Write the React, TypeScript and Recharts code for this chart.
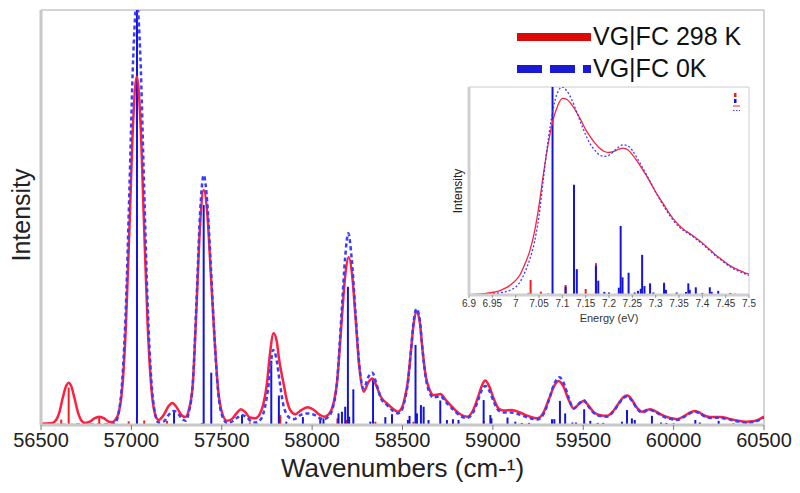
import React from 'react'
import { ComposedChart, Line, XAxis, YAxis, ReferenceLine, Label } from 'recharts'

const FONT = '"Liberation Sans", Arial, sans-serif'

// main axis ticks
const xTicks = [56500, 57000, 57500, 58000, 58500, 59000, 59500, 60000, 60500]
const yTicks = [0, 8, 16, 24, 32, 40, 48, 56, 64, 72, 80, 88, 96]
// inset axis ticks (eV)
const insetTicks = [6.9, 6.95, 7, 7.05, 7.1, 7.15, 7.2, 7.25, 7.3, 7.35, 7.4, 7.45, 7.5]
const insetYTicks = [0, 12.5, 25, 37.5, 50, 62.5, 75, 87.5]

const seriesNames = ['VG|FC 298 K', 'VG|FC 0K']

// broadened spectrum, 298 K  [wavenumber, intensity]
const red298: [number, number][] = [
  [56500, 0.3], [56555, 0.4], [56580, 1.0], [56600, 2.8], [56620, 6.5], [56640, 9.5], [56653, 10.2],
  [56668, 9.3], [56685, 6.5], [56705, 3.0], [56725, 1.0], [56745, 0.5], [56770, 0.8], [56795, 1.6],
  [56822, 2.0], [56850, 1.6], [56875, 0.8], [56895, 0.7], [56910, 1.2], [56930, 3.0], [56950, 9.2],
  [56970, 24.2], [56990, 48.3], [57010, 73.2], [57030, 84], [57050, 73.2], [57070, 48.3], [57090, 24.2],
  [57110, 9.2], [57130, 2.8], [57150, 1.2], [57180, 2.5], [57205, 4.5], [57227, 5.3], [57250, 4.3],
  [57275, 2.5], [57298, 1.9], [57320, 4.0], [57340, 10], [57360, 28], [57380, 48], [57400, 56.6],
  [57420, 51], [57440, 36], [57460, 21], [57480, 8.5], [57500, 3.2], [57529, 1.0], [57560, 1.6],
  [57585, 3.0], [57606, 3.8], [57630, 3.1], [57655, 1.8], [57686, 1.6], [57710, 2.6], [57730, 5.0],
  [57750, 10], [57765, 16.5], [57787, 22.1], [57805, 20], [57815, 16.5], [57842, 10], [57860, 6],
  [57879, 3.6], [57907, 2.6], [57940, 3.6], [57975, 4.3], [58010, 3.6], [58040, 2.5], [58067, 2.0],
  [58090, 2.5], [58110, 4.0], [58137, 10], [58165, 26], [58182, 35.5], [58202, 40.4], [58224, 35],
  [58240, 26], [58261, 14], [58285, 8.0], [58310, 10.2], [58333, 11.2], [58355, 9.5], [58380, 6.8],
  [58414, 5.2], [58445, 4.0], [58475, 3.2], [58500, 4.5], [58515, 7], [58528, 10], [58547, 18],
  [58562, 24.5], [58578, 27.3], [58595, 25], [58611, 18], [58630, 11.5], [58650, 8.5], [58670, 7.2],
  [58690, 7.3], [58709, 7.5], [58740, 6], [58783, 4.0], [58820, 2.6], [58857, 2.0], [58890, 3.5],
  [58920, 7], [58940, 9.6], [58958, 10.7], [58980, 9.3], [59005, 6.3], [59031, 4.0], [59060, 3.5],
  [59105, 3.6], [59150, 3.0], [59200, 2.1], [59244, 1.6], [59280, 3.0], [59310, 6.2], [59340, 9.5],
  [59364, 10.6], [59390, 9.3], [59420, 6], [59447, 4.0], [59475, 5], [59502, 5.8], [59530, 4.6],
  [59560, 3.0], [59600, 2.3], [59631, 2.2], [59670, 3.6], [59700, 5.5], [59725, 6.8], [59745, 7.1],
  [59770, 6.0], [59800, 4.0], [59825, 3.2], [59850, 3.6], [59871, 3.8], [59900, 3.3], [59940, 2.3],
  [59980, 1.7], [60018, 1.4], [60060, 2.2], [60095, 3.1], [60120, 3.4], [60150, 2.8], [60180, 2.1],
  [60203, 1.9], [60230, 1.95], [60260, 1.9], [60300, 1.6], [60350, 1.1], [60400, 0.8], [60440, 0.9],
  [60470, 1.3], [60500, 2.0],
]

// broadened spectrum, 0 K
const blue0K: [number, number][] = [
  [56500, 0], [56880, 0.1], [56910, 0.5], [56930, 3.0], [56950, 11], [56970, 29], [56990, 58],
  [57010, 88.5], [57030, 102], [57050, 88.5], [57070, 58], [57090, 29], [57110, 11], [57130, 3.0],
  [57150, 0.6], [57180, 0.9], [57210, 2.6], [57236, 3.4], [57260, 2.6], [57285, 1.3], [57300, 1.0],
  [57320, 3.5], [57340, 10], [57360, 29.5], [57380, 51], [57400, 60.2], [57420, 53.5], [57440, 38],
  [57460, 21], [57480, 8], [57500, 2.5], [57530, 0.5], [57560, 0.9], [57590, 1.9], [57612, 2.4],
  [57640, 1.8], [57665, 0.8], [57690, 0.6], [57715, 1.3], [57740, 4.5], [57760, 10], [57772, 15],
  [57784, 18.1], [57800, 16.5], [57822, 10], [57840, 5], [57860, 2.5], [57880, 1.6], [57900, 1.4],
  [57935, 2.4], [57975, 2.8], [58015, 2.4], [58045, 1.6], [58067, 1.4], [58090, 2], [58110, 3.5],
  [58137, 10], [58165, 28.5], [58182, 40], [58200, 46.2], [58218, 40.5], [58240, 27], [58262, 14],
  [58285, 8.8], [58310, 11.5], [58333, 12.6], [58355, 10], [58380, 6.5], [58414, 4.8], [58445, 3.5],
  [58475, 2.8], [58500, 4], [58515, 6.5], [58528, 9.5], [58547, 18], [58562, 25], [58578, 28],
  [58595, 25.5], [58611, 18], [58630, 11], [58650, 7.8], [58670, 6.6], [58690, 6.8], [58709, 7.0],
  [58740, 5.5], [58783, 3.6], [58820, 2.2], [58857, 1.7], [58890, 3.0], [58920, 6.2], [58940, 8.5],
  [58958, 9.4], [58980, 8.3], [59005, 5.6], [59031, 3.5], [59060, 3.0], [59105, 3.0], [59150, 2.5],
  [59200, 1.7], [59244, 1.3], [59280, 2.6], [59310, 6], [59340, 10], [59368, 11.5], [59390, 10.3],
  [59420, 6.5], [59447, 4.0], [59475, 5.1], [59502, 6.0], [59530, 4.4], [59560, 2.8], [59600, 2.1],
  [59631, 2.0], [59670, 3.4], [59700, 5.3], [59725, 6.6], [59745, 6.9], [59770, 5.8], [59800, 3.8],
  [59825, 3.0], [59850, 3.4], [59871, 3.6], [59900, 3.1], [59940, 2.1], [59980, 1.5], [60018, 1.2],
  [60060, 2.0], [60095, 2.9], [60120, 3.2], [60150, 2.6], [60180, 1.9], [60203, 1.7], [60230, 1.75],
  [60260, 1.7], [60300, 1.4], [60350, 0.9], [60400, 0.6], [60440, 0.7], [60470, 1.1], [60500, 1.8],
]

// stick spectra [wavenumber, intensity]
const blueSticks: [number, number][] = [
  [57031, 100], [57236, 3.2], [57400, 53], [57442, 12.6], [57612, 2.4], [57774, 15.5], [57816, 7.1],
  [57857, 0.8], [57949, 1.9], [58045, 1.8], [58063, 1.6], [58146, 2.8], [58165, 3.2], [58183, 4.4],
  [58198, 33.3], [58205, 2.0], [58228, 8.6], [58322, 0.8], [58337, 11.0], [58405, 1.9], [58442, 2.6],
  [58530, 1.2], [58539, 2.2], [58572, 19.3], [58580, 2.8], [58602, 4.8], [58617, 4.4], [58644, 1.2],
  [58709, 5.9], [58746, 1.2], [58779, 1.4], [58810, 1.2], [58949, 6.0], [58986, 2.4], [58992, 1.6],
  [59081, 1.8], [59124, 0.8], [59160, 0.5], [59200, 0.5], [59327, 1.4], [59340, 1.4], [59371, 5.8],
  [59400, 2.8], [59440, 0.6], [59460, 0.6], [59505, 3.8], [59539, 1.0], [59580, 0.5], [59610, 0.5],
  [59714, 0.8], [59742, 3.6], [59769, 1.6], [59785, 1.2], [59880, 2.2], [59930, 0.6], [59960, 0.5],
  [60000, 0.4], [60120, 1.2], [60145, 0.6], [60249, 1.0], [60330, 0.4], [60400, 0.4],
]
const redSticks: [number, number][] = [
  [56612, 1.3], [56653, 9.0], [56822, 2.0], [56985, 0.9], [57071, 1.1], [57197, 1.0], [57390, 0.5],
  [57655, 0.6], [57824, 2.4], [58140, 1.6], [58190, 1.2], [58350, 0.8], [58560, 0.8], [58950, 1.0],
]

// inset: energy (eV) vs intensity
const insetRed: [number, number][] = [
  [6.9, 0.2], [6.93, 0.6], [6.95, 1.2], [6.97, 2.5], [6.99, 5.0], [7.0, 7.0], [7.01, 10], [7.02, 15],
  [7.03, 21], [7.04, 30], [7.05, 43], [7.06, 59], [7.07, 73], [7.08, 84], [7.09, 91], [7.1, 94.5],
  [7.11, 94], [7.12, 91.5], [7.13, 88], [7.14, 84], [7.15, 79.5], [7.16, 76], [7.17, 73], [7.18, 70.5],
  [7.19, 69], [7.2, 68.5], [7.21, 69], [7.22, 70], [7.23, 70.6], [7.24, 69.8], [7.25, 67.5], [7.26, 64.5],
  [7.27, 61], [7.28, 57.5], [7.29, 53.5], [7.3, 49.5], [7.31, 46], [7.32, 42.5], [7.33, 39], [7.34, 36],
  [7.35, 33.5], [7.36, 31.5], [7.37, 30], [7.38, 28.5], [7.39, 26.8], [7.4, 25], [7.41, 23], [7.42, 21],
  [7.43, 19], [7.44, 17.3], [7.45, 15.5], [7.46, 14], [7.47, 12.8], [7.48, 11.8], [7.49, 10.8], [7.5, 10],
]
const insetBlue: [number, number][] = [
  [6.9, 0], [6.93, 0.3], [6.95, 0.6], [6.97, 1.2], [6.99, 2.5], [7.0, 3.8], [7.01, 6.5], [7.02, 11],
  [7.03, 17], [7.04, 25], [7.05, 38], [7.06, 57], [7.07, 75], [7.08, 89], [7.09, 97.5], [7.1, 100],
  [7.11, 98], [7.12, 94], [7.13, 88.5], [7.14, 82.5], [7.15, 77], [7.16, 72.5], [7.17, 69.5], [7.18, 67.3],
  [7.19, 66.6], [7.2, 67.2], [7.21, 69], [7.22, 71], [7.23, 72.2], [7.24, 71.8], [7.25, 69.5], [7.26, 66],
  [7.27, 62], [7.28, 58], [7.29, 53.8], [7.3, 49.5], [7.31, 45.5], [7.32, 41.8], [7.33, 38.3], [7.34, 35.2],
  [7.35, 32.8], [7.36, 31], [7.37, 29.5], [7.38, 28], [7.39, 26.3], [7.4, 24.5], [7.41, 22.5], [7.42, 20.5],
  [7.43, 18.5], [7.44, 16.8], [7.45, 15], [7.46, 13.5], [7.47, 12.2], [7.48, 11.2], [7.49, 10.3], [7.5, 9.5],
]
const insetBlueSticks: [number, number][] = [
  [7.079, 100], [7.107, 4.0], [7.125, 53], [7.131, 12.4], [7.172, 14], [7.177, 6.9], [7.19, 1.5],
  [7.2, 1.2], [7.221, 3.5], [7.225, 33.2], [7.229, 8.5], [7.242, 10.7], [7.255, 1.2], [7.262, 2],
  [7.268, 3], [7.271, 19.3], [7.276, 4.3], [7.288, 5.6], [7.295, 1.2], [7.318, 5.5], [7.322, 2.5],
  [7.345, 1.2], [7.365, 1.5], [7.37, 5.6], [7.373, 2.5], [7.386, 3.7], [7.4, 1], [7.416, 3.7],
  [7.42, 1.5], [7.434, 2.0], [7.46, 1], [7.47, 0.6],
]
const insetRedSticks: [number, number][] = [
  [7.0, 0.5], [7.027, 1.0], [7.032, 7.2], [7.054, 1.6], [7.07, 0.8], [7.107, 4.8], [7.15, 2.9],
  [7.172, 15.3], [7.318, 6.0],
]

const toPts = (arr: [number, number][]) => arr.map(([x, y]) => ({ x, y }))

const RED = '#ff2040'
const BLUE = '#3c3cff'
const STICK_BLUE = '#1414dc'
const STICK_RED = '#f02020'

function sticks(arr: [number, number][], color: string, width: number, prefix: string) {
  return arr.map(([x, h]) => (
    <ReferenceLine
      key={prefix + x}
      segment={[{ x, y: 0 }, { x, y: h }]}
      stroke={color}
      strokeWidth={width}
      ifOverflow="hidden"
    />
  ))
}

const xTitle = (props: any) => {
  const vb = props.viewBox
  return (
    <text x={vb.x + vb.width / 2} y={vb.y + vb.height + 22} textAnchor="middle" fontSize={26} fontFamily={FONT} fill="#222">
      Wavenumbers (cm-¹)
    </text>
  )
}

const insetXTitle = (props: any) => {
  const vb = props.viewBox
  return (
    <text x={vb.x + vb.width / 2} y={vb.y + vb.height + 7} textAnchor="middle" fontSize={11} fontFamily={FONT} fill="#333">
      Energy (eV)
    </text>
  )
}

export default function App() {
  return (
    <div style={{ position: 'absolute', left: 0, top: 0, width: 800, height: 493, background: '#fff' }}>
      <ComposedChart width={800} height={493} margin={{ top: 10, right: 36, bottom: 38, left: 37 }}>
        <XAxis
          type="number"
          dataKey="x"
          domain={[56500, 60500]}
          ticks={xTicks}
          interval={0}
          allowDataOverflow
          height={30}
          tickSize={5}
          tickMargin={3}
          tick={{ fontSize: 20, fill: '#222', fontFamily: FONT }}
          tickLine={{ stroke: '#777' }}
          axisLine={{ stroke: '#c8c8c8', strokeWidth: 3 }}
        >
          <Label content={xTitle} />
        </XAxis>
        <YAxis
          type="number"
          domain={[0, 100]}
          ticks={yTicks}
          interval={0}
          allowDataOverflow
          width={4}
          tick={false}
          tickSize={4}
          tickLine={{ stroke: '#888' }}
          axisLine={{ stroke: '#c8c8c8', strokeWidth: 3 }}
        />
        <ReferenceLine y={100} stroke="#aaa" />
        <ReferenceLine x={60500} stroke="#aaa" />
        {sticks(redSticks, STICK_RED, 2, 'r')}
        {sticks(blueSticks, STICK_BLUE, 2, 'b')}
        <Line
          name={seriesNames[0]}
          data={toPts(red298)}
          dataKey="y"
          type="monotone"
          stroke={RED}
          strokeWidth={2.5}
          dot={false}
          isAnimationActive={false}
        />
        <Line
          name={seriesNames[1]}
          data={toPts(blue0K)}
          dataKey="y"
          type="monotone"
          stroke={BLUE}
          strokeWidth={2.5}
          strokeDasharray="4 3"
          dot={false}
          isAnimationActive={false}
        />
      </ComposedChart>

      {/* inset */}
      <div style={{ position: 'absolute', left: 440, top: 80 }}>
        <ComposedChart width={320} height={250} margin={{ top: 7, right: 11, bottom: 15, left: 26 }}>
          <XAxis
            type="number"
            dataKey="x"
            domain={[6.9, 7.5]}
            ticks={insetTicks}
            interval={0}
            allowDataOverflow
            height={20}
            tickSize={3}
            tickMargin={2}
            tick={{ fontSize: 10, fill: '#333', fontFamily: FONT }}
            tickLine={{ stroke: '#999' }}
            axisLine={{ stroke: '#d0d0d0', strokeWidth: 3 }}
          >
            <Label content={insetXTitle} />
          </XAxis>
          <YAxis
            type="number"
            domain={[0, 100]}
            ticks={insetYTicks}
            interval={0}
            allowDataOverflow
            width={3}
            tick={false}
            tickSize={2}
            tickLine={{ stroke: '#aaa' }}
            axisLine={{ stroke: '#d0d0d0', strokeWidth: 3 }}
          />
          <ReferenceLine y={100} stroke="#ccc" />
          <ReferenceLine x={7.5} stroke="#ccc" />
          {sticks(insetRedSticks, STICK_RED, 2, 'ir')}
          {sticks(insetBlueSticks, STICK_BLUE, 2, 'ib')}
          <Line
            data={toPts(insetRed)}
            dataKey="y"
            type="monotone"
            stroke={RED}
            strokeWidth={1.3}
            dot={false}
            isAnimationActive={false}
          />
          <Line
            data={toPts(insetBlue)}
            dataKey="y"
            type="monotone"
            stroke={BLUE}
            strokeWidth={1.3}
            strokeDasharray="2 2"
            dot={false}
            isAnimationActive={false}
          />
        </ComposedChart>
      </div>

      {/* axis titles and legends */}
      <svg width={800} height={493} style={{ position: 'absolute', left: 0, top: 0, pointerEvents: 'none' }}>
        <text x={30} y={215} transform="rotate(-90 30 215)" textAnchor="middle" fontSize={25} fontFamily={FONT} fill="#222">
          Intensity
        </text>
        <text x={462} y={191} transform="rotate(-90 462 191)" textAnchor="middle" fontSize={12} fontFamily={FONT} fill="#222">
          Intensity
        </text>
        <line x1={517} y1={37} x2={591} y2={37} stroke="#dd0a0a" strokeWidth={8} />
        <text x={593} y={45} fontSize={25} fontFamily={FONT} fill="#111">{seriesNames[0]}</text>
        <line x1={517} y1={69} x2={591} y2={69} stroke="#1a1ad6" strokeWidth={8} strokeDasharray="25 8" />
        <text x={593} y={77} fontSize={25} fontFamily={FONT} fill="#111">{seriesNames[1]}</text>
        <rect x={734} y={93} width={2.5} height={4} fill={STICK_RED} />
        <rect x={734} y={99} width={2.5} height={4} fill={STICK_BLUE} />
        <line x1={733} y1={106} x2={740} y2={106} stroke={RED} strokeWidth={1} />
        <line x1={733} y1={110.5} x2={740} y2={110.5} stroke={BLUE} strokeWidth={1} strokeDasharray="1.5 1.5" />
      </svg>
    </div>
  )
}
